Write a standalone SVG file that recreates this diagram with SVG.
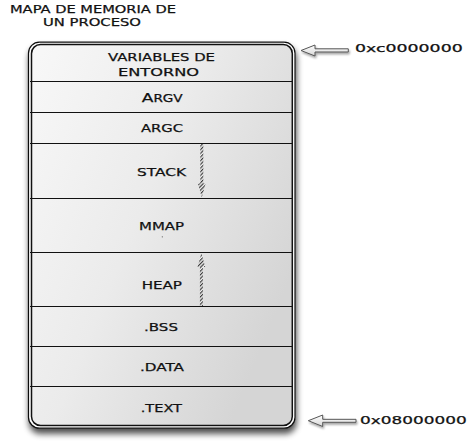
<svg xmlns="http://www.w3.org/2000/svg" width="471" height="444" viewBox="0 0 471 444">
<defs>
<style>
.t{font-family:"DejaVu Sans","Liberation Sans",sans-serif;font-size:11px;fill:#111;stroke:#111;stroke-width:0.25;}
.div{stroke:#111;stroke-width:1.2;fill:none;}
.ptr{fill:url(#ptrGrad);stroke:#555;stroke-width:1;stroke-linejoin:miter;filter:url(#sh2);}
.hatchbg{fill:#f2f2f2;}
.hatch{fill:url(#hatch);}
</style>
<linearGradient id="boxGrad" x1="0" y1="0" x2="1" y2="0.6">
<stop offset="0" stop-color="#f8f8f8"/>
<stop offset="0.5" stop-color="#ebebeb"/>
<stop offset="1" stop-color="#d5d5d5"/>
</linearGradient>
<linearGradient id="ptrGrad" x1="0" y1="0" x2="0" y2="1">
<stop offset="0" stop-color="#ffffff"/>
<stop offset="1" stop-color="#d6d6d6"/>
</linearGradient>
<pattern id="hatch" patternUnits="userSpaceOnUse" width="2.6" height="2.6" patternTransform="rotate(-45)">
<rect x="0" y="0" width="2.6" height="1.2" fill="#3a3a3a"/>
</pattern>
<filter id="sh" x="-10%" y="-10%" width="120%" height="120%">
<feGaussianBlur in="SourceAlpha" stdDeviation="3"/>
<feOffset dx="1" dy="5" result="b"/>
<feComponentTransfer><feFuncA type="linear" slope="0.7"/></feComponentTransfer>
<feMerge><feMergeNode/><feMergeNode in="SourceGraphic"/></feMerge>
</filter>
<filter id="sh2" x="-20%" y="-50%" width="140%" height="200%">
<feGaussianBlur in="SourceAlpha" stdDeviation="1.2"/>
<feOffset dx="1" dy="2"/>
<feComponentTransfer><feFuncA type="linear" slope="0.35"/></feComponentTransfer>
<feMerge><feMergeNode/><feMergeNode in="SourceGraphic"/></feMerge>
</filter>
</defs>

<g id="title">
<text class="t" x="10" y="13" textLength="166" lengthAdjust="spacingAndGlyphs">MAPA DE MEMORIA DE</text>
<text class="t" x="43" y="26" textLength="98" lengthAdjust="spacingAndGlyphs">UN PROCESO</text>
</g>

<g id="frame">
<rect x="28.5" y="42.2" width="266.5" height="386" rx="11" ry="11" fill="#ffffff" stroke="#111" stroke-width="1.2" filter="url(#sh)"/>
<rect x="31.5" y="44.5" width="260.8" height="381" rx="9" ry="9" fill="url(#boxGrad)" stroke="#111" stroke-width="1.5"/>
</g>

<g id="seg-entorno">
<text class="t" x="108" y="61" textLength="107" lengthAdjust="spacingAndGlyphs">VARIABLES DE</text>
<text class="t" x="118" y="76" textLength="81" lengthAdjust="spacingAndGlyphs">ENTORNO</text>
<line class="div" x1="30" y1="81.5" x2="293" y2="81.5"/>
</g>
<g id="seg-argv">
<text class="t" x="141.7" y="101.7" textLength="41" lengthAdjust="spacingAndGlyphs"><tspan font-size="12.8">A</tspan><tspan font-size="10.2">RGV</tspan></text>
<line class="div" x1="30" y1="112.5" x2="293" y2="112.5"/>
</g>
<g id="seg-argc">
<text class="t" x="141" y="132" textLength="42" lengthAdjust="spacingAndGlyphs">ARGC</text>
<line class="div" x1="30" y1="143.5" x2="293" y2="143.5"/>
</g>
<g id="seg-stack">
<text class="t" x="137" y="175.7" textLength="49" lengthAdjust="spacingAndGlyphs">STACK</text>
<line class="div" x1="30" y1="198.5" x2="293" y2="198.5"/>
</g>
<g id="seg-mmap">
<text class="t" x="139" y="230" textLength="45" lengthAdjust="spacingAndGlyphs">MMAP</text>
<circle cx="162.3" cy="236.8" r="0.6" fill="#555"/>
<line class="div" x1="30" y1="252.5" x2="293" y2="252.5"/>
</g>
<g id="seg-heap">
<text class="t" x="141.7" y="289" textLength="40.3" lengthAdjust="spacingAndGlyphs">HEAP</text>
<line class="div" x1="30" y1="306.5" x2="293" y2="306.5"/>
</g>
<g id="seg-bss">
<text class="t" x="144" y="331" textLength="34" lengthAdjust="spacingAndGlyphs">.BSS</text>
<line class="div" x1="30" y1="346.5" x2="293" y2="346.5"/>
</g>
<g id="seg-data">
<text class="t" x="140" y="371" textLength="44" lengthAdjust="spacingAndGlyphs">.DATA</text>
<line class="div" x1="30" y1="386.5" x2="293" y2="386.5"/>
</g>
<g id="seg-text">
<text class="t" x="140.7" y="411.7" textLength="41.3" lengthAdjust="spacingAndGlyphs">.TEXT</text>
</g>

<g id="addr-top">
<text class="t" x="355" y="52" textLength="107.7" lengthAdjust="spacingAndGlyphs">0xc0000000</text>
</g>
<g id="addr-bottom">
<text class="t" x="360" y="424.3" textLength="106.7" lengthAdjust="spacingAndGlyphs">0x08000000</text>
</g>

<g id="connectors">
<g id="stack-arrow">
<path class="hatchbg" d="M200.3,144 L203.3,144 L203.3,183.5 L205.6,183.5 L201.8,197.5 L198,183.5 L200.3,183.5 Z"/>
<path class="hatch" d="M200.3,144 L203.3,144 L203.3,183.5 L205.6,183.5 L201.8,197.5 L198,183.5 L200.3,183.5 Z"/>
</g>
<g id="heap-arrow">
<path class="hatchbg" d="M199.9,306 L202.9,306 L202.9,267 L205.2,267 L201.4,253 L197.6,267 L199.9,267 Z"/>
<path class="hatch" d="M199.9,306 L202.9,306 L202.9,267 L205.2,267 L201.4,253 L197.6,267 L199.9,267 Z"/>
</g>
<path class="ptr" d="M301,50.5 L315,45 L315,48.8 L348.3,48.8 L348.3,52 L315,52 L315,56 Z"/>
<path class="ptr" d="M308.3,420.7 L322.7,415 L322.7,419.3 L356,419.3 L356,422.3 L322.7,422.3 L322.7,426.5 Z"/>
</g>
</svg>
